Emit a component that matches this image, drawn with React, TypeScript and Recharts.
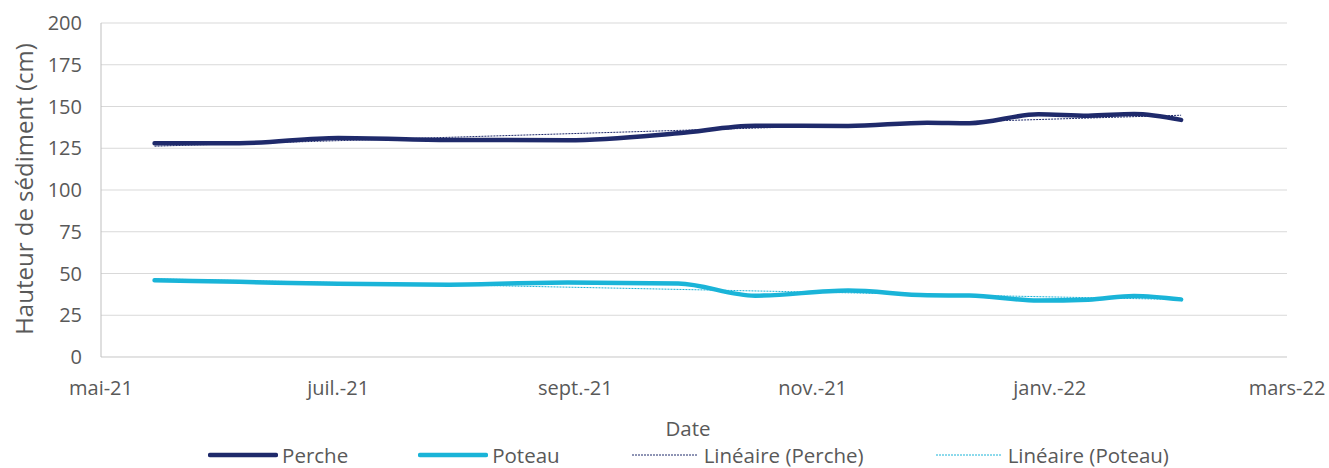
import { CartesianGrid, Legend, Line, LineChart, XAxis, YAxis } from "recharts";

// relevés (date, hauteur en cm)
const DATES = [
  "2021-05-15",
  "2021-06-06",
  "2021-07-01",
  "2021-07-30",
  "2021-08-30",
  "2021-09-27",
  "2021-10-17",
  "2021-11-10",
  "2021-11-30",
  "2021-12-11",
  "2021-12-29",
  "2022-01-11",
  "2022-01-23",
  "2022-02-04",
];
const PERCHE = [128, 128, 131.2, 130, 129.8, 134, 138.5, 138.3, 140.3, 140, 145.3, 144.5, 145.5, 142];
const POTEAU = [46, 45, 43.8, 43.3, 44.6, 44, 36.7, 39.8, 37, 36.8, 33.8, 34.3, 36.6, 34.5];

const X_TICKS = [0, 2, 4, 6, 8, 10];
const X_LABELS = ["mai-21", "juil.-21", "sept.-21", "nov.-21", "janv.-22", "mars-22"];
const Y_TICKS = [0, 25, 50, 75, 100, 125, 150, 175, 200];

const FONT = "'Open Sans', sans-serif";
const TEXT = "#595959";
const GRID = "#d9d9d9";
const C_PERCHE = "#1f2a6b";
const C_POTEAU = "#1ab4d8";

// months since 2021-05-01 (axis is evenly spaced by month)
function toMonth(s: string) {
  const [y, m, d] = s.split("-").map(Number);
  const dim = new Date(y, m, 0).getDate();
  return (y - 2021) * 12 + (m - 5) + (d - 1) / dim;
}

const xs = DATES.map(toMonth);
const percheData = xs.map((x, i) => ({ x, y: PERCHE[i] }));
const poteauData = xs.map((x, i) => ({ x, y: POTEAU[i] }));

// linear trendline, like Excel's "Linéaire"
function trend(ys: number[]) {
  const n = xs.length;
  const mx = xs.reduce((a, b) => a + b, 0) / n;
  const my = ys.reduce((a, b) => a + b, 0) / n;
  let num = 0;
  let den = 0;
  xs.forEach((x, i) => {
    num += (x - mx) * (ys[i] - my);
    den += (x - mx) * (x - mx);
  });
  const b = num / den;
  const a = my - b * mx;
  return [xs[0], xs[n - 1]].map((x) => ({ x, y: a + b * x }));
}

const LEGEND_ITEMS = [
  { label: "Perche", color: C_PERCHE, width: 4.5, dash: undefined },
  { label: "Poteau", color: C_POTEAU, width: 4.5, dash: undefined },
  { label: "Linéaire (Perche)", color: C_PERCHE, width: 1, dash: "2 1" },
  { label: "Linéaire (Poteau)", color: C_POTEAU, width: 1, dash: "2 1" },
];

function ChartLegend() {
  return (
    <div
      style={{
        display: "flex",
        justifyContent: "center",
        gap: 70,
        paddingLeft: 48,
        paddingTop: 3,
        height: 27,
        fontFamily: FONT,
        fontSize: 20.5,
        color: TEXT,
        lineHeight: "24px",
      }}
    >
      {LEGEND_ITEMS.map((it) => (
        <div key={it.label} style={{ display: "flex", alignItems: "center", gap: 4 }}>
          <svg width={70} height={10}>
            <line
              x1={2}
              y1={5}
              x2={68}
              y2={5}
              stroke={it.color}
              strokeWidth={it.width}
              strokeDasharray={it.dash}
              strokeLinecap={it.dash ? "butt" : "round"}
            />
          </svg>
          <span>{it.label}</span>
        </div>
      ))}
    </div>
  );
}

export default function App() {
  const tick = { fill: TEXT, fontSize: 20, fontFamily: FONT };
  return (
    <div style={{ position: "absolute", left: 0, top: 0, background: "#fff" }}>
      <LineChart
        width={1329}
        height={468}
        margin={{ top: 23, right: 42, bottom: 0, left: 0 }}
      >
        <CartesianGrid stroke={GRID} vertical={false} />
        <XAxis
          dataKey="x"
          type="number"
          domain={[0, 10]}
          ticks={X_TICKS}
          tickFormatter={(v) => X_LABELS[X_TICKS.indexOf(v)] ?? ""}
          tick={tick}
          tickLine={false}
          tickMargin={18}
          axisLine={{ stroke: GRID }}
          height={81}
          label={{
            content: () => (
              <text x={688} y={428} textAnchor="middle" dominantBaseline="central" fill={TEXT} fontSize={20.5} fontFamily={FONT}>
                Date
              </text>
            ),
          }}
        />
        <YAxis
          type="number"
          domain={[0, 200]}
          ticks={Y_TICKS}
          tick={tick}
          tickLine={false}
          tickMargin={13}
          axisLine={{ stroke: "#bfbfbf" }}
          width={101}
          label={{
            content: () => (
              <text
                x={23}
                y={189}
                transform="rotate(-90 23 189)"
                textAnchor="middle"
                dominantBaseline="central"
                fill={TEXT}
                fontSize={24}
                fontFamily={FONT}
              >
                Hauteur de sédiment (cm)
              </text>
            ),
          }}
        />
        <Legend verticalAlign="bottom" height={30} wrapperStyle={{ left: 0, width: 1329 }} content={() => <ChartLegend />} />
        <Line
          data={percheData}
          dataKey="y"
          type="monotone"
          stroke={C_PERCHE}
          strokeWidth={4.5}
          strokeLinecap="round"
          dot={false}
          isAnimationActive={false}
        />
        <Line
          data={poteauData}
          dataKey="y"
          type="monotone"
          stroke={C_POTEAU}
          strokeWidth={4.5}
          strokeLinecap="round"
          dot={false}
          isAnimationActive={false}
        />
        <Line
          data={trend(PERCHE)}
          dataKey="y"
          type="linear"
          stroke={C_PERCHE}
          strokeWidth={1}
          strokeDasharray="2 1"
          dot={false}
          isAnimationActive={false}
        />
        <Line
          data={trend(POTEAU)}
          dataKey="y"
          type="linear"
          stroke={C_POTEAU}
          strokeWidth={1}
          strokeDasharray="2 1"
          dot={false}
          isAnimationActive={false}
        />
      </LineChart>
    </div>
  );
}
